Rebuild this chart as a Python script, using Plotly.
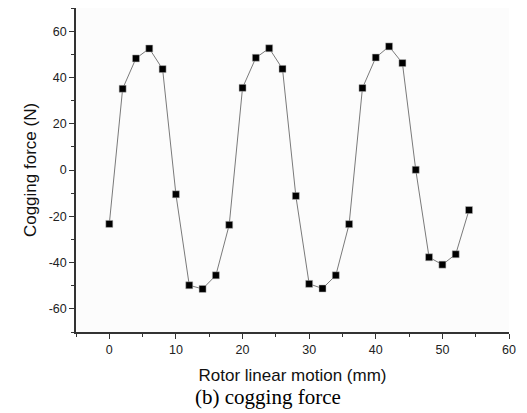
import plotly.graph_objects as go

x_mm = [0, 2, 4, 6, 8, 10, 12, 14, 16, 18, 20, 22, 24, 26, 28, 30, 32, 34, 36, 38, 40, 42, 44, 46, 48, 50, 52, 54]
force_n = [-23.3, 35.1, 48.2, 52.5, 43.6, -10.5, -49.8, -51.4, -45.5, -23.7,
           35.5, 48.5, 52.6, 43.7, -11.2, -49.2, -51.2, -45.5, -23.4,
           35.4, 48.6, 53.4, 46.2, 0.1, -37.7, -40.9, -36.4, -17.3]

x_ticks = [0, 10, 20, 30, 40, 50, 60]
y_ticks = [-60, -40, -20, 0, 20, 40, 60]
y_ticklabels = ["-60", "-40", "-20", "0", "20", "40", "60"]

x_title = "Rotor linear motion (mm)"
y_title = "Cogging force (N)"
caption = "(b) cogging force"

fig = go.Figure()
fig.add_trace(go.Scatter(
    x=x_mm, y=force_n, mode="lines+markers",
    line=dict(color="#7a7a7a", width=1),
    marker=dict(symbol="square", size=7, color="black", line=dict(color="#bbbbbb", width=0.5)),
    showlegend=False,
))

axis_common = dict(
    showline=True, linecolor="#333333", linewidth=1.5, mirror=False,
    showgrid=False, zeroline=False,
    ticks="outside", ticklen=5, tickwidth=1.2, tickcolor="#333333",
    tickfont=dict(family="Liberation Sans, Arial", size=12.5, color="#222222"),
)

fig.update_xaxes(
    range=[-5, 60], tickvals=x_ticks, ticktext=[str(v) for v in x_ticks],
    minor=dict(dtick=5, tick0=0, ticks="outside", ticklen=3, tickwidth=1.2, tickcolor="#333333"),
    title=dict(text=x_title, font=dict(family="Liberation Sans, Arial", size=17, color="#111111"), standoff=13),
    **axis_common,
)
fig.update_yaxes(
    range=[-70, 70], tickvals=y_ticks, ticktext=y_ticklabels,
    minor=dict(dtick=10, tick0=0, ticks="outside", ticklen=3, tickwidth=1.2, tickcolor="#333333"),
    title=dict(text=y_title, font=dict(family="Liberation Sans, Arial", size=17, color="#111111"), standoff=8),
    **axis_common,
)

fig.add_annotation(
    text=caption, xref="paper", yref="paper", x=0.443, y=0,
    xanchor="center", yanchor="middle", yshift=-65, showarrow=False,
    font=dict(family="Liberation Serif, Times New Roman", size=21, color="black"),
)

fig.update_layout(
    width=527, height=413,
    margin=dict(l=76, r=18, t=8, b=81),
    plot_bgcolor="#fcfcfc", paper_bgcolor="white",
)

fig.write_html("out.html")
